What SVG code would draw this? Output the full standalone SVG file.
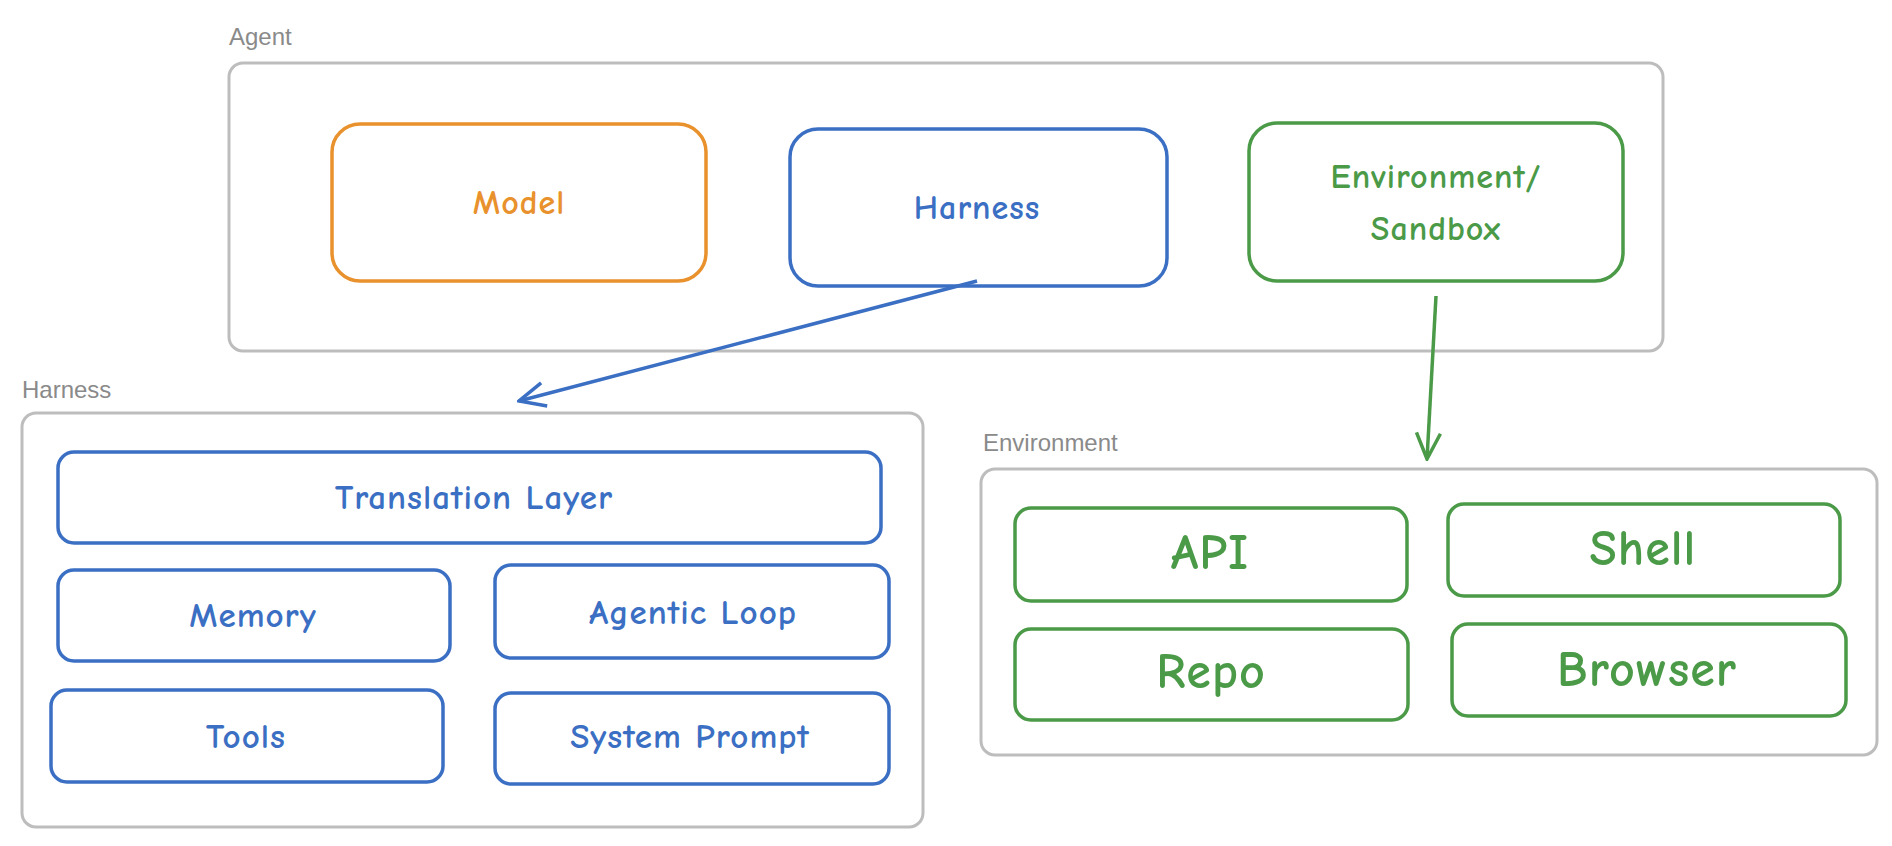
<svg xmlns="http://www.w3.org/2000/svg" width="1892" height="846" viewBox="0 0 1892 846">
<defs>
<style>
.grp{fill:none;stroke:#bdbdbd;stroke-width:3}
.lbl{font-family:"Liberation Sans",Arial,sans-serif;font-size:24px;fill:#8a8a8a}
.o{fill:none;stroke:#e8912d;stroke-width:3.5}
.b{fill:none;stroke:#3b6fc3;stroke-width:3.5}
.g{fill:none;stroke:#4b9a48;stroke-width:3.5}
.t{font-family:"Comic Neue","Open Sans",sans-serif;font-weight:bold;text-anchor:middle;dominant-baseline:central;letter-spacing:1px}
.to{fill:#e8912d}.tb{fill:#3b6fc3}.tg{fill:#4b9a48}
</style>
<marker id="ab" viewBox="0 0 30 30" refX="28" refY="15" markerWidth="30" markerHeight="30" markerUnits="userSpaceOnUse" orient="auto"><path d="M2,3 L28,15 L2,27" fill="none" stroke="#3b6fc3" stroke-width="3.5"/></marker>
<marker id="ag" viewBox="0 0 30 30" refX="28" refY="15" markerWidth="30" markerHeight="30" markerUnits="userSpaceOnUse" orient="auto"><path d="M2,3 L28,15 L2,27" fill="none" stroke="#4b9a48" stroke-width="3.5"/></marker>
</defs>
<rect width="1892" height="846" fill="#fff"/>
<g id="agent">
<text class="lbl" x="229" y="45">Agent</text>
<rect class="grp" x="229" y="63" width="1434" height="288" rx="14"/>
</g>
<g id="model"><rect class="o" x="332" y="124" width="374" height="157" rx="28"/><text class="t to" x="519" y="203" font-size="34">Model</text></g>
<g id="harness-node"><rect class="b" x="790" y="129" width="377" height="157" rx="28"/><text class="t tb" x="977" y="208" font-size="34">Harness</text></g>
<g id="env-node"><rect class="g" x="1249" y="123" width="374" height="158" rx="28"/><text class="t tg" x="1436" y="177" font-size="34">Environment/</text><text class="t tg" x="1436" y="229" font-size="34">Sandbox</text></g>
<g id="harness">
<text class="lbl" x="22" y="398">Harness</text>
<rect class="grp" x="22" y="413" width="901" height="414" rx="14"/>
</g>
<g id="translation"><rect class="b" x="58" y="452" width="823" height="91" rx="16"/><text class="t tb" x="474" y="497" font-size="35">Translation Layer</text></g>
<g id="memory"><rect class="b" x="58" y="570" width="392" height="91" rx="16"/><text class="t tb" x="253" y="615" font-size="35">Memory</text></g>
<g id="loop"><rect class="b" x="495" y="565" width="394" height="93" rx="16"/><text class="t tb" x="693" y="612" font-size="35">Agentic Loop</text></g>
<g id="tools"><rect class="b" x="51" y="690" width="392" height="92" rx="16"/><text class="t tb" x="246" y="736" font-size="35">Tools</text></g>
<g id="prompt"><rect class="b" x="495" y="693" width="394" height="91" rx="16"/><text class="t tb" x="690" y="736" font-size="35">System Prompt</text></g>
<g id="environment">
<text class="lbl" x="983" y="451">Environment</text>
<rect class="grp" x="981" y="469" width="896" height="286" rx="14"/>
</g>
<g id="api"><rect class="g" x="1015" y="508" width="392" height="93" rx="16"/><text class="t tg" x="1210" y="553" font-size="50">API</text></g>
<g id="shell"><rect class="g" x="1448" y="504" width="392" height="92" rx="16"/><text class="t tg" x="1643" y="549" font-size="50">Shell</text></g>
<g id="repo"><rect class="g" x="1015" y="629" width="393" height="91" rx="16"/><text class="t tg" x="1211" y="672" font-size="50">Repo</text></g>
<g id="browser"><rect class="g" x="1452" y="624" width="394" height="92" rx="16"/><text class="t tg" x="1647" y="670" font-size="50">Browser</text></g>
<g id="connectors">
<path d="M977,281 L519,401" fill="none" stroke="#3b6fc3" stroke-width="3.5" marker-end="url(#ab)"/>
<path d="M1436,296 L1427,459" fill="none" stroke="#4b9a48" stroke-width="3.5" marker-end="url(#ag)"/>
</g>
</svg>
